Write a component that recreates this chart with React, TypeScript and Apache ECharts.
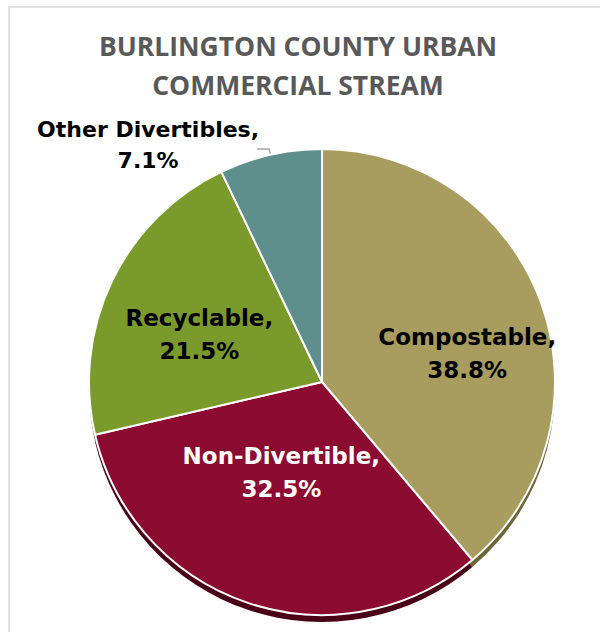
import React, { useEffect, useRef } from "react";
import * as echarts from "echarts";

const titleLines = ["BURLINGTON COUNTY URBAN", "COMMERCIAL STREAM"];
const categories = ["Compostable", "Non-Divertible", "Recyclable", "Other Divertibles"];
const values = [38.8, 32.5, 21.5, 7.1];
const colors = ["#A89C5E", "#8C0B30", "#7B9A2C", "#5F8F8C"];
const shadowColors = ["#6E6636", "#4A0016", "#4E6418", "#3C5E5C"];
const labelColors = ["#000000", "#FFFFFF", "#000000", "#000000"];
const labelShift = [
  [33, 13],
  [-3, -23],
  [-15, 4],
  [-104, -4],
];

export default function App() {
  const ref = useRef<HTMLDivElement>(null);
  useEffect(() => {
    const chart = echarts.init(ref.current!, undefined, { renderer: "svg" });
    const labelFont = {
      fontFamily: "DejaVu Sans",
      fontWeight: "bold" as const,
      fontSize: 23,
      lineHeight: 33,
    };
    const data = categories.map((c, i) => ({
      name: c,
      value: values[i],
      itemStyle: { color: colors[i] },
      label: {
        position: (i === 3 ? "outside" : "inside") as any,
        color: labelColors[i],
        align: "center" as const,
        ...labelFont,
        ...(i === 3 ? { fontSize: 22, lineHeight: 31 } : {}),
      },
      labelLine:
        i === 3
          ? { show: true, length: 6, length2: 12, lineStyle: { color: "#A6A6A6", width: 1.5 } }
          : { show: false },
    }));
    chart.setOption({
      animation: false,
      title: {
        text: titleLines.join("\n"),
        left: 298,
        textAlign: "center",
        top: 27,
        padding: 0,
        textStyle: {
          fontFamily: "Open Sans",
          fontWeight: "bold",
          fontSize: 26.5,
          lineHeight: 38.5,
          color: "#595959",
        },
      },
      graphic: [
        {
          type: "rect",
          shape: { x: 9, y: 7, width: 620, height: 660 },
          style: { fill: "none", stroke: "#D9D9D9", lineWidth: 1.5 },
          z: -10,
        },
      ],
      series: [
        {
          type: "pie",
          silent: true,
          center: [322, 389],
          radius: 233,
          startAngle: 90,
          clockwise: true,
          label: { show: false },
          labelLine: { show: false },
          itemStyle: { borderWidth: 0 },
          data: categories.map((c, i) => ({
            name: c,
            value: values[i],
            itemStyle: { color: shadowColors[i] },
          })),
          z: 1,
        },
        {
          type: "pie",
          center: [322, 382],
          radius: 233,
          startAngle: 90,
          clockwise: true,
          itemStyle: { borderColor: "#FFFFFF", borderWidth: 2 },
          label: {
            show: true,
            formatter: (p: any) => `${p.name},\n${p.value.toFixed(1)}%`,
          },
          labelLayout: (p: any) => {
            const o: any = {
              dx: labelShift[p.dataIndex][0],
              dy: labelShift[p.dataIndex][1],
            };
            if (p.dataIndex === 3) o.align = "center";
            return o;
          },
          data,
          z: 2,
        },
      ],
    });
    return () => chart.dispose();
  }, []);
  return (
    <div
      ref={ref}
      style={{ position: "fixed", left: 0, top: 0, width: 600, height: 632, background: "#fff" }}
    />
  );
}
